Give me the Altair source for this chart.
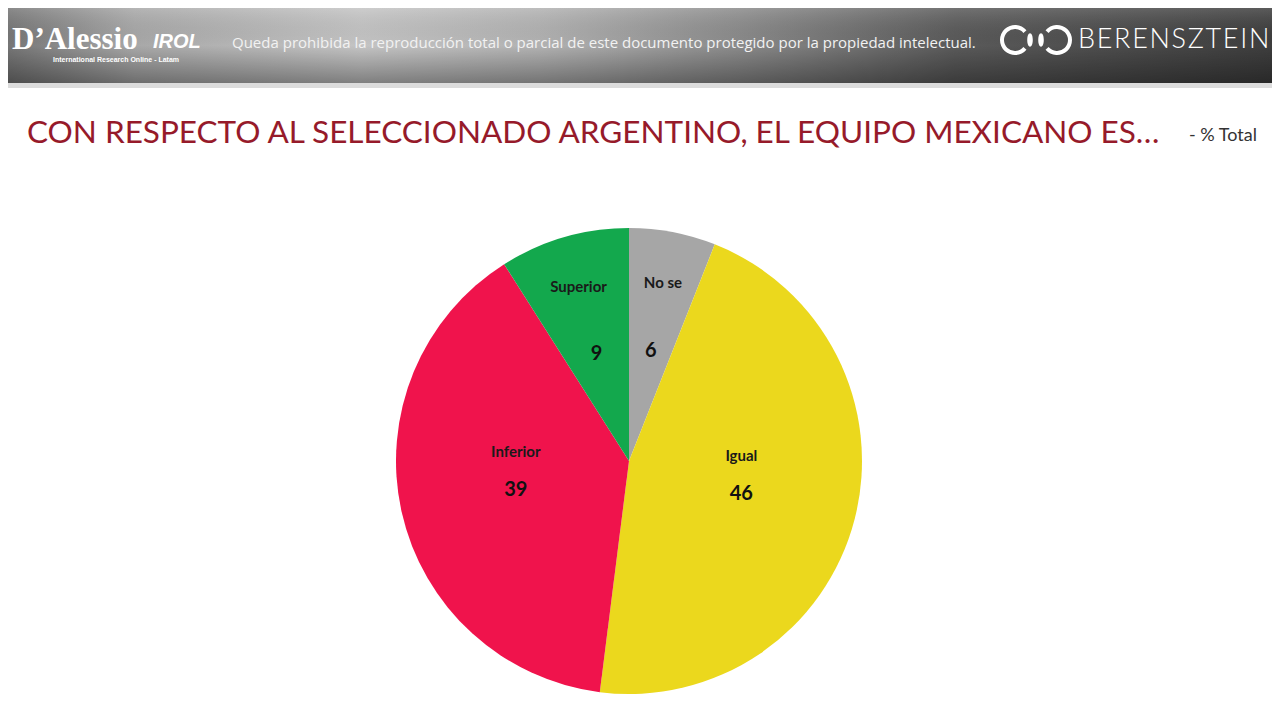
import altair as alt
import pandas as pd
import math

# ---- data ----
labels = ["No se", "Igual", "Inferior", "Superior"]
values = [6, 46, 39, 9]
colors = ["#a6a6a6", "#ebd81d", "#f0134c", "#13a84d"]
order_idx = [0, 1, 2, 3]

title_text = "CON RESPECTO AL SELECCIONADO ARGENTINO, EL EQUIPO MEXICANO ES\u2026"
subtitle_text = "- % Total"
disclaimer = "Queda prohibida la reproducci\u00f3n total o parcial de este documento protegido por la propiedad intelectual."
brand_text = "\u200a".join("BERENSZTEIN")

df = pd.DataFrame({"label": labels, "value": values, "idx": order_idx})
dummy = pd.DataFrame({"a": [0]})

W, H = 1264, 705
CX, CY, R = 621, 453, 233

# ---- banner ----
banner = alt.Chart(dummy).mark_rect(
    color=alt.Gradient(
        gradient="linear",
        stops=[
            alt.GradientStop(color="#767676", offset=0),
            alt.GradientStop(color="#a8a8a8", offset=0.1),
            alt.GradientStop(color="#c4c4c4", offset=0.28),
            alt.GradientStop(color="#b2b2b2", offset=0.42),
            alt.GradientStop(color="#8a8a8a", offset=0.58),
            alt.GradientStop(color="#5a5a5a", offset=0.75),
            alt.GradientStop(color="#3e3e3e", offset=1),
        ],
        x1=0, x2=1, y1=0, y2=0,
    )
).encode(x=alt.value(0), x2=alt.value(W), y=alt.value(0), y2=alt.value(75))

banner_shade = alt.Chart(dummy).mark_rect(
    color=alt.Gradient(
        gradient="linear",
        stops=[
            alt.GradientStop(color="rgba(255,255,255,0.15)", offset=0),
            alt.GradientStop(color="rgba(0,0,0,0)", offset=0.5),
            alt.GradientStop(color="rgba(0,0,0,0.35)", offset=1),
        ],
        x1=0, x2=0, y1=0, y2=1,
    )
).encode(x=alt.value(0), x2=alt.value(W), y=alt.value(0), y2=alt.value(75))

banner_line = alt.Chart(dummy).mark_rect(color="#dcdcdc").encode(
    x=alt.value(0), x2=alt.value(W), y=alt.value(75), y2=alt.value(80)
)

logo1 = alt.Chart(dummy).mark_text(
    text="D\u2019Alessio", font="Liberation Serif", fontSize=31, fontWeight="bold",
    color="white", align="left", baseline="alphabetic"
).encode(x=alt.value(4), y=alt.value(41))

logo2 = alt.Chart(dummy).mark_text(
    text="IROL", font="Liberation Sans", fontSize=20, fontWeight="bold", fontStyle="italic",
    color="white", align="left", baseline="alphabetic"
).encode(x=alt.value(145), y=alt.value(40))

logo3 = alt.Chart(dummy).mark_text(
    text="International Research Online - Latam", font="Liberation Sans", fontSize=7,
    fontWeight="bold", color="white", align="left", baseline="alphabetic"
).encode(x=alt.value(45), y=alt.value(54))

disc = alt.Chart(dummy).mark_text(
    text=disclaimer, font="Open Sans", fontSize=15, color="#f2f2f2",
    align="left", baseline="middle"
).encode(x=alt.value(224), y=alt.value(35))

brand = alt.Chart(dummy).mark_text(
    text=brand_text, font="Lato", fontSize=27, fontWeight=300, color="white",
    align="left", baseline="middle"
).encode(x=alt.value(1070), y=alt.value(32))

arcL = alt.Chart(dummy).mark_arc(color="white").encode(
    x=alt.value(1007), y=alt.value(32),
    theta=alt.value(math.pi / 2 + 0.7), theta2=alt.value(math.pi / 2 + 2 * math.pi - 0.7),
    radius=alt.value(15), radius2=alt.value(11),
)
arcR = alt.Chart(dummy).mark_arc(color="white").encode(
    x=alt.value(1049), y=alt.value(32),
    theta=alt.value(3 * math.pi / 2 + 0.7), theta2=alt.value(3 * math.pi / 2 + 2 * math.pi - 0.7),
    radius=alt.value(15), radius2=alt.value(11),
)
oval = "M0,-1 C0.55,-1 0.55,1 0,1 C-0.55,1 -0.55,-1 0,-1 Z"
midL = alt.Chart(dummy).mark_point(shape=oval, filled=True, color="white", size=180, opacity=1).encode(
    x=alt.value(1022), y=alt.value(32)
)
midR = alt.Chart(dummy).mark_point(shape=oval, filled=True, color="white", size=180, opacity=1).encode(
    x=alt.value(1033), y=alt.value(32)
)

# ---- title ----
title = alt.Chart(dummy).mark_text(
    text=title_text, font="Lato", fontSize=31.5, color="#961a2a",
    align="left", baseline="alphabetic"
).encode(x=alt.value(19), y=alt.value(135))

subtitle = alt.Chart(dummy).mark_text(
    text=subtitle_text, font="Lato", fontSize=18, color="#333333",
    align="right", baseline="alphabetic"
).encode(x=alt.value(1249), y=alt.value(133))

# ---- pie ----
theta_enc = alt.Theta("value:Q", stack=True, scale=alt.Scale(range=[0, 2 * math.pi]))
color_enc = alt.Color("label:N", scale=alt.Scale(domain=labels, range=colors), legend=None)
order_enc = alt.Order("idx:Q", sort="ascending")

pie = alt.Chart(df).mark_arc(outerRadius=R).encode(
    theta=theta_enc, color=color_enc, order=order_enc,
    x=alt.value(CX), y=alt.value(CY),
)

base_txt = alt.Chart(df).transform_calculate(
    small_name="datum.value < 20 ? datum.label : ''",
    big_name="datum.value >= 20 ? datum.label : ''",
)

nums = base_txt.mark_text(
    radius=116, dy=4, font="Lato", fontSize=20, fontWeight="bold", color="#111111"
).encode(theta=theta_enc, order=order_enc, text="value:Q", x=alt.value(CX), y=alt.value(CY))

small_names = base_txt.mark_text(
    radius=181, font="Lato", fontSize=15, fontWeight="bold", color="#1a1a1a"
).encode(theta=theta_enc, order=order_enc, text="small_name:N", x=alt.value(CX), y=alt.value(CY))

big_names = base_txt.mark_text(
    radius=116, dy=-34, font="Lato", fontSize=15, fontWeight="bold", color="#1a1a1a"
).encode(theta=theta_enc, order=order_enc, text="big_name:N", x=alt.value(CX), y=alt.value(CY))

chart = alt.layer(
    banner, banner_shade, banner_line, logo1, logo2, logo3, disc, brand,
    arcL, arcR, midL, midR, title, subtitle, pie, nums, small_names, big_names
).properties(
    width=W, height=H,
    autosize=alt.AutoSizeParams(type="fit", contains="padding"),
    padding=0, background="white",
).configure_view(stroke=None)

chart.save("out.html", embed_options={"renderer": "svg", "actions": False})
